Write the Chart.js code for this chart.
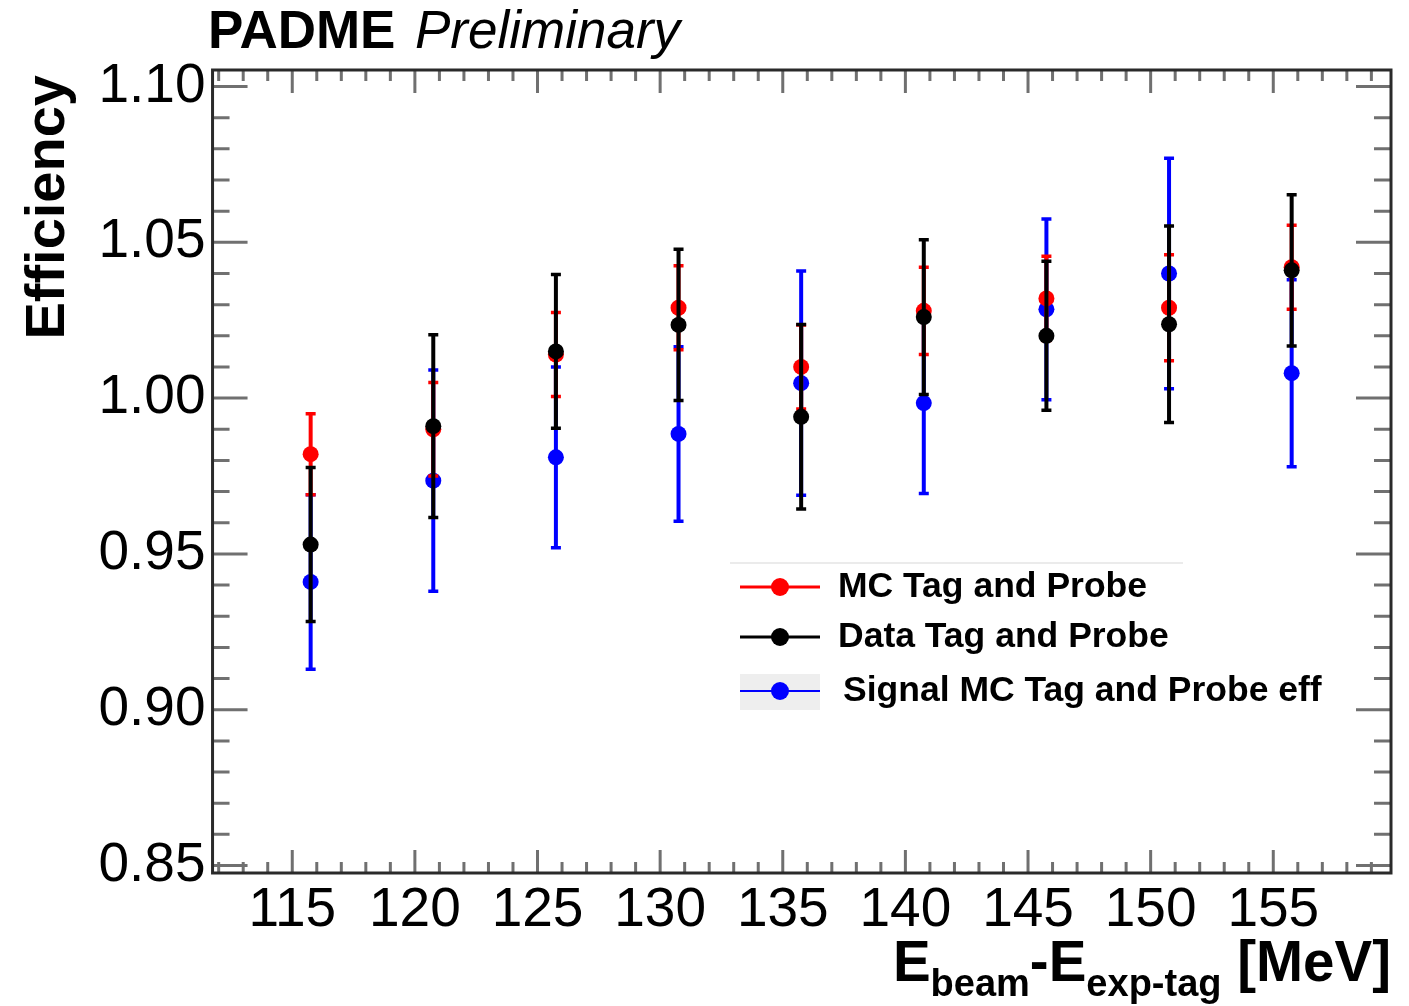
<!DOCTYPE html>
<html>
<head>
<meta charset="utf-8">
<script src="https://cdn.jsdelivr.net/npm/chart.js@4.4.0/dist/chart.umd.min.js"></script>
<style>
  html, body { margin: 0; padding: 0; background: #fff; }
  #wrap { width: 1409px; height: 1006px; position: relative; }
</style>
</head>
<body>
<div id="wrap"><canvas id="effChart"></canvas></div>
<script>
// bin centres in E_beam - E_exp-tag [MeV]
const energyBins = [115.75, 120.75, 125.75, 130.75, 135.75, 140.75, 145.75, 150.75, 155.75];

// MC Tag and Probe
const mcEff = [0.982, 0.990, 1.014, 1.029, 1.010, 1.028, 1.032, 1.029, 1.042];
const mcErr = [0.013, 0.015, 0.0135, 0.0135, 0.0135, 0.014, 0.0135, 0.017, 0.0135];

// Data Tag and Probe
const dataEff = [0.953, 0.991, 1.015, 1.0235, 0.994, 1.026, 1.020, 1.0237, 1.041];
const dataErr = [0.0247, 0.0293, 0.0247, 0.0243, 0.0296, 0.0248, 0.0239, 0.0315, 0.0243];

// Signal MC Tag and Probe eff
const sigEff = [0.941, 0.9735, 0.981, 0.9885, 1.0048, 0.9984, 1.0285, 1.040, 1.008];
const sigErr = [0.028, 0.0355, 0.029, 0.028, 0.036, 0.029, 0.029, 0.037, 0.030];

const xTicks = [115, 120, 125, 130, 135, 140, 145, 150, 155];
const yTicks = [0.85, 0.90, 0.95, 1.00, 1.05, 1.10];

const FONT = "'Liberation Sans', Arial, Helvetica, sans-serif";

function toPoints(vals) {
  return energyBins.map((x, i) => ({ x: x, y: vals[i] }));
}

// error bars drawn just before each dataset's markers (ROOT-like ordering)
const errorBars = {
  id: "errorBars",
  beforeDatasetDraw(chart, args) {
    const ds = chart.data.datasets[args.index];
    if (!ds.errors) return;
    const { ctx, scales: { x, y } } = chart;
    ctx.save();
    ctx.strokeStyle = ds.backgroundColor;
    ds.data.forEach((p, i) => {
      const px = x.getPixelForValue(p.x);
      const yLo = y.getPixelForValue(p.y - ds.errors[i]);
      const yHi = y.getPixelForValue(p.y + ds.errors[i]);
      ctx.lineWidth = 4;
      ctx.beginPath();
      ctx.moveTo(px, yLo);
      ctx.lineTo(px, yHi);
      ctx.stroke();
      ctx.lineWidth = 3.5;
      ctx.beginPath();
      ctx.moveTo(px - 5, yLo); ctx.lineTo(px + 5, yLo);
      ctx.moveTo(px - 5, yHi); ctx.lineTo(px + 5, yHi);
      ctx.stroke();
    });
    ctx.restore();
  }
};

// ROOT style frame with inward ticks on all four sides
const rootFrame = {
  id: "rootFrame",
  beforeDatasetsDraw(chart) {
    const { ctx, chartArea: a, scales: { x, y } } = chart;
    ctx.save();
    ctx.strokeStyle = "#707070";
    ctx.lineWidth = 3;
    ctx.beginPath();
    for (let v = Math.ceil(x.min); v <= x.max; v++) {
      const px = x.getPixelForValue(v);
      const len = xTicks.includes(v) ? 23 : 11;
      ctx.moveTo(px, a.bottom); ctx.lineTo(px, a.bottom - len);
      ctx.moveTo(px, a.top); ctx.lineTo(px, a.top + len);
    }
    for (let k = Math.ceil(y.min * 100); k <= y.max * 100; k++) {
      const v = k / 100;
      const py = y.getPixelForValue(v);
      const len = k % 5 === 0 ? 35 : 17;
      ctx.moveTo(a.left, py); ctx.lineTo(a.left + len, py);
      ctx.moveTo(a.right, py); ctx.lineTo(a.right - len, py);
    }
    ctx.stroke();
    ctx.strokeStyle = "#2a2a2a";
    ctx.lineWidth = 3;
    ctx.strokeRect(a.left, a.top, a.right - a.left, a.bottom - a.top);
    ctx.restore();
  },
  afterDraw(chart) {
    const { ctx, chartArea: a } = chart;
    ctx.save();
    ctx.fillStyle = "#000";
    ctx.textBaseline = "alphabetic";

    // header
    ctx.font = "bold 53px " + FONT;
    ctx.fillText("PADME", 208, 48);
    ctx.font = "italic 53px " + FONT;
    ctx.fillText("Preliminary", 415, 48);

    // y title
    ctx.save();
    ctx.translate(64, 75);
    ctx.rotate(-Math.PI / 2);
    ctx.font = "bold 56px " + FONT;
    ctx.textAlign = "right";
    ctx.fillText("Efficiency", 0, 0);
    ctx.restore();

    // x title with subscripts, right aligned to the frame
    const parts = [
      ["E", false], ["beam", true], ["-E", false], ["exp-tag", true], [" [MeV]", false]
    ];
    const mainFont = "bold 56.5px " + FONT;
    const subFont = "bold 38px " + FONT;
    let total = 0;
    parts.forEach(([t, sub]) => { ctx.font = sub ? subFont : mainFont; total += ctx.measureText(t).width; });
    let cx = a.right - total;
    parts.forEach(([t, sub]) => {
      ctx.font = sub ? subFont : mainFont;
      ctx.fillText(t, cx, sub ? 996 : 981);
      cx += ctx.measureText(t).width;
    });

    // legend
    ctx.strokeStyle = "#e4e4e4";
    ctx.lineWidth = 1.5;
    ctx.beginPath();
    ctx.moveTo(730, 563); ctx.lineTo(1183, 563);
    ctx.stroke();
    ctx.fillStyle = "#eeeeee";
    ctx.fillRect(740, 674, 80, 36);
    const rows = [
      ["MC Tag and Probe", "#ff0000", 587, 838, 3],
      ["Data Tag and Probe", "#000000", 637, 838, 3],
      ["Signal MC Tag and Probe eff", "#0000ff", 691, 843, 2]
    ];
    rows.forEach(([label, col, ry, tx, lw]) => {
      ctx.strokeStyle = col;
      ctx.lineWidth = lw;
      ctx.beginPath();
      ctx.moveTo(740, ry); ctx.lineTo(820, ry);
      ctx.stroke();
      ctx.fillStyle = col;
      ctx.beginPath();
      ctx.arc(780, ry, 9, 0, Math.PI * 2);
      ctx.fill();
      ctx.fillStyle = "#000";
      ctx.font = "bold 35.5px " + FONT;
      ctx.textBaseline = "middle";
      ctx.fillText(label, tx, ry);
    });
    ctx.restore();
  }
};

function series(label, vals, errs, color, order) {
  return {
    label: label,
    data: toPoints(vals),
    errors: errs,
    backgroundColor: color,
    borderColor: color,
    pointRadius: 8,
    pointHoverRadius: 8,
    borderWidth: 0,
    showLine: false,
    order: order
  };
}

new Chart(document.getElementById("effChart"), {
  type: "scatter",
  data: {
    datasets: [
      series("MC Tag and Probe", mcEff, mcErr, "#ff0000", 1),
      series("Data Tag and Probe", dataEff, dataErr, "#000000", 0),
      series("Signal MC Tag and Probe eff", sigEff, sigErr, "#0000ff", 2)
    ]
  },
  options: {
    responsive: true,
    maintainAspectRatio: false,
    devicePixelRatio: 1,
    animation: false,
    layout: { padding: { left: 91.5, right: 18, top: 70, bottom: 57 } },
    plugins: { legend: { display: false }, tooltip: { enabled: false } },
    scales: {
      x: {
        type: "linear",
        min: 111.75,
        max: 159.8,
        afterBuildTicks: (s) => { s.ticks = xTicks.map(v => ({ value: v })); },
        grid: { display: false, drawTicks: false },
        border: { display: false },
        ticks: {
          color: "#000",
          padding: 5,
          maxRotation: 0,
          autoSkip: false,
          font: { family: FONT, size: 55 },
          callback: (v) => String(v)
        }
      },
      y: {
        type: "linear",
        min: 0.8476,
        max: 1.1053,
        afterBuildTicks: (s) => { s.ticks = yTicks.map(v => ({ value: v })); },
        grid: { display: false, drawTicks: false },
        border: { display: false },
        ticks: {
          color: "#000",
          padding: 7,
          autoSkip: false,
          font: { family: FONT, size: 55 },
          callback: (v) => Number(v).toFixed(2)
        }
      }
    }
  },
  plugins: [rootFrame, errorBars]
});
</script>
</body>
</html>
